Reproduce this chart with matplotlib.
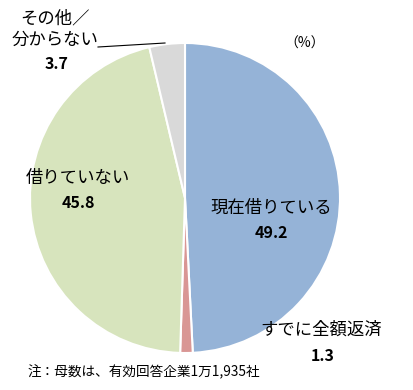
import matplotlib.pyplot as plt

plt.rcParams['font.family'] = ['Noto Sans CJK JP', 'DejaVu Sans']

# data
labels = ['現在借りている', 'すでに全額返済', '借りていない', 'その他／\n分からない']
values = [49.2, 1.3, 45.8, 3.7]
colors = ['#95B3D7', '#D99694', '#D7E4BD', '#D9D9D9']

W, H = 414, 390
fig = plt.figure(figsize=(W / 100, H / 100), dpi=100)
ax = fig.add_axes([0, 0, 1, 1])

cx, cy, r = 185, H - 198, 155
ax.pie(values, colors=colors, startangle=90, counterclock=False,
       center=(cx, cy), radius=r, frame=True,
       wedgeprops=dict(edgecolor='white', linewidth=1.5))
ax.set_xlim(0, W)
ax.set_ylim(0, H)
ax.set_aspect('equal')
ax.axis('off')

# label positions (pixel coords from top-left)
pos = [(271, 208), (321, 330), (78, 178), (55, 29)]
npos = [(271, 233), (323, 356), (78, 203), (57, 64)]
for lab, v, (x, y), (nx, ny) in zip(labels, values, pos, npos):
    ax.text(x, H - y, lab, ha='center', va='center', fontsize=12.5,
            linespacing=1.2)
    ax.text(nx, H - ny, f'{v:.1f}', ha='center', va='center', fontsize=11.5,
            fontweight='bold')

# leader line for small slice
ax.plot([98, 165], [H - 47, H - 43], color='black', lw=0.8)

ax.text(305, H - 44, '（%）', ha='center', va='center', fontsize=10)
ax.text(28, H - 372, '注：母数は、有効回答企業1万1,935社', ha='left', va='center',
        fontsize=9.8)

fig.savefig('out.png', dpi=100)
